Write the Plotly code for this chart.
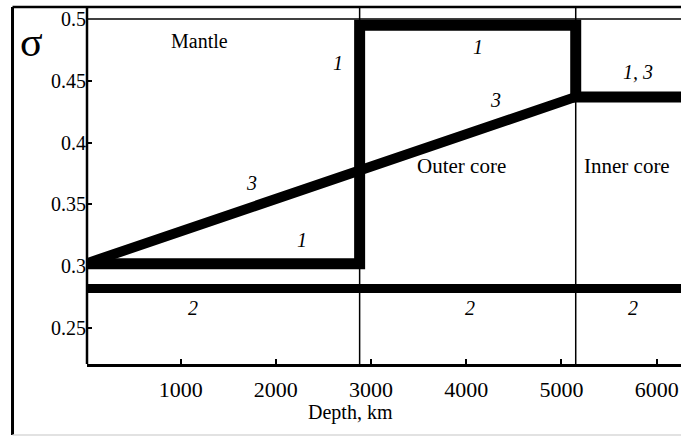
import plotly.graph_objects as go

# ---- data ----
line1_depth = [0, 2880, 2880, 5150, 5150, 6300]
line1_sigma = [0.302, 0.302, 0.495, 0.495, 0.437, 0.437]

line3_depth = [0, 5150, 6300]
line3_sigma = [0.302, 0.437, 0.437]

line2_depth = [0, 6300]
line2_sigma = [0.282, 0.282]

boundaries = [2880, 5150]

x_ticks = [1000, 2000, 3000, 4000, 5000, 6000]
y_ticks = [0.25, 0.3, 0.35, 0.4, 0.45, 0.5]
y_tick_text = ["0.25", "0.3", "0.35", "0.4", "0.45", "0.5"]

region_labels = ["Mantle", "Outer core", "Inner core"]
region_x = [1203, 3955, 5688]
region_y = [0.482, 0.381, 0.381]
region_size = [20, 21, 21]

curve_labels = ["1", "1", "1, 3", "3", "3", "1", "2", "2", "2"]
curve_lx = [2653, 4123, 5804, 4312, 1739, 2274, 1129, 4039, 5751]
curve_ly = [0.4644, 0.4773, 0.4571, 0.4344, 0.3672, 0.321, 0.266, 0.266, 0.266]

SERIF = "Liberation Serif, Times New Roman, serif"

fig = go.Figure()
fig.add_trace(go.Scatter(x=line2_depth, y=line2_sigma, mode="lines",
                         line=dict(color="black", width=9), hoverinfo="skip"))
fig.add_trace(go.Scatter(x=line3_depth, y=line3_sigma, mode="lines",
                         line=dict(color="black", width=10), hoverinfo="skip"))
fig.add_trace(go.Scatter(x=line1_depth, y=line1_sigma, mode="lines",
                         line=dict(color="black", width=11), hoverinfo="skip"))

shapes = []
# region boundaries (extend up to outer frame)
for b in boundaries:
    shapes.append(dict(type="line", xref="x", yref="paper", x0=b, x1=b, y0=0, y1=1.0348,
                       line=dict(color="black", width=1.5)))
# plot top line
shapes.append(dict(type="line", xref="paper", yref="paper", x0=0, x1=1.01, y0=1, y1=1,
                   line=dict(color="black", width=1.5)))
# left axis line extended to the frame
shapes.append(dict(type="line", xref="paper", yref="paper", x0=0, x1=0, y0=0, y1=1.0348,
                   line=dict(color="black", width=2.5)))
# outer frame
shapes.append(dict(type="line", xref="paper", yref="paper", x0=-0.1254, x1=-0.1254,
                   y0=-0.2058, y1=1.0348, line=dict(color="black", width=3)))
shapes.append(dict(type="line", xref="paper", yref="paper", x0=-0.1254, x1=1.01,
                   y0=1.0348, y1=1.0348, line=dict(color="black", width=2.5)))
shapes.append(dict(type="line", xref="paper", yref="paper", x0=-0.1254, x1=1.01,
                   y0=-0.2058, y1=-0.2058, line=dict(color="#d8d8d8", width=1.5)))

annotations = []
for t, x, y, s in zip(region_labels, region_x, region_y, region_size):
    annotations.append(dict(text=t, x=x, y=y, xref="x", yref="y", showarrow=False,
                            xanchor="center", yanchor="middle",
                            font=dict(family=SERIF, size=s, color="black")))
for t, x, y in zip(curve_labels, curve_lx, curve_ly):
    annotations.append(dict(text="<i>" + t + "</i>", x=x, y=y, xref="x", yref="y",
                            showarrow=False, xanchor="center", yanchor="middle",
                            font=dict(family=SERIF, size=20, color="black")))
annotations.append(dict(text="Depth, km", x=0.4444, y=-0.142, xref="paper", yref="paper",
                        showarrow=False, xanchor="center", yanchor="middle",
                        font=dict(family=SERIF, size=20, color="black")))
annotations.append(dict(text="σ", x=-0.0926, y=0.9333, xref="paper", yref="paper",
                        showarrow=False, xanchor="center", yanchor="middle",
                        font=dict(family=SERIF, size=42, color="black")))

fig.update_layout(
    width=681, height=436,
    margin=dict(l=87, r=0, t=19, b=72),
    paper_bgcolor="white", plot_bgcolor="white",
    showlegend=False,
    shapes=shapes, annotations=annotations,
    xaxis=dict(range=[16, 6256], tickvals=x_ticks, ticks="inside", ticklen=5, tickwidth=2,
               tickcolor="black", showline=True, linecolor="black", linewidth=2.5,
               showgrid=False, zeroline=False, ticklabelstandoff=4,
               tickfont=dict(family=SERIF, size=22, color="black")),
    yaxis=dict(range=[0.2209, 0.5], tickvals=y_ticks, ticktext=y_tick_text,
               ticks="inside", ticklen=5, tickwidth=2, tickcolor="black",
               showline=False, showgrid=False, zeroline=False,
               tickfont=dict(family=SERIF, size=20, color="black")),
)

fig.write_html("out.html")
